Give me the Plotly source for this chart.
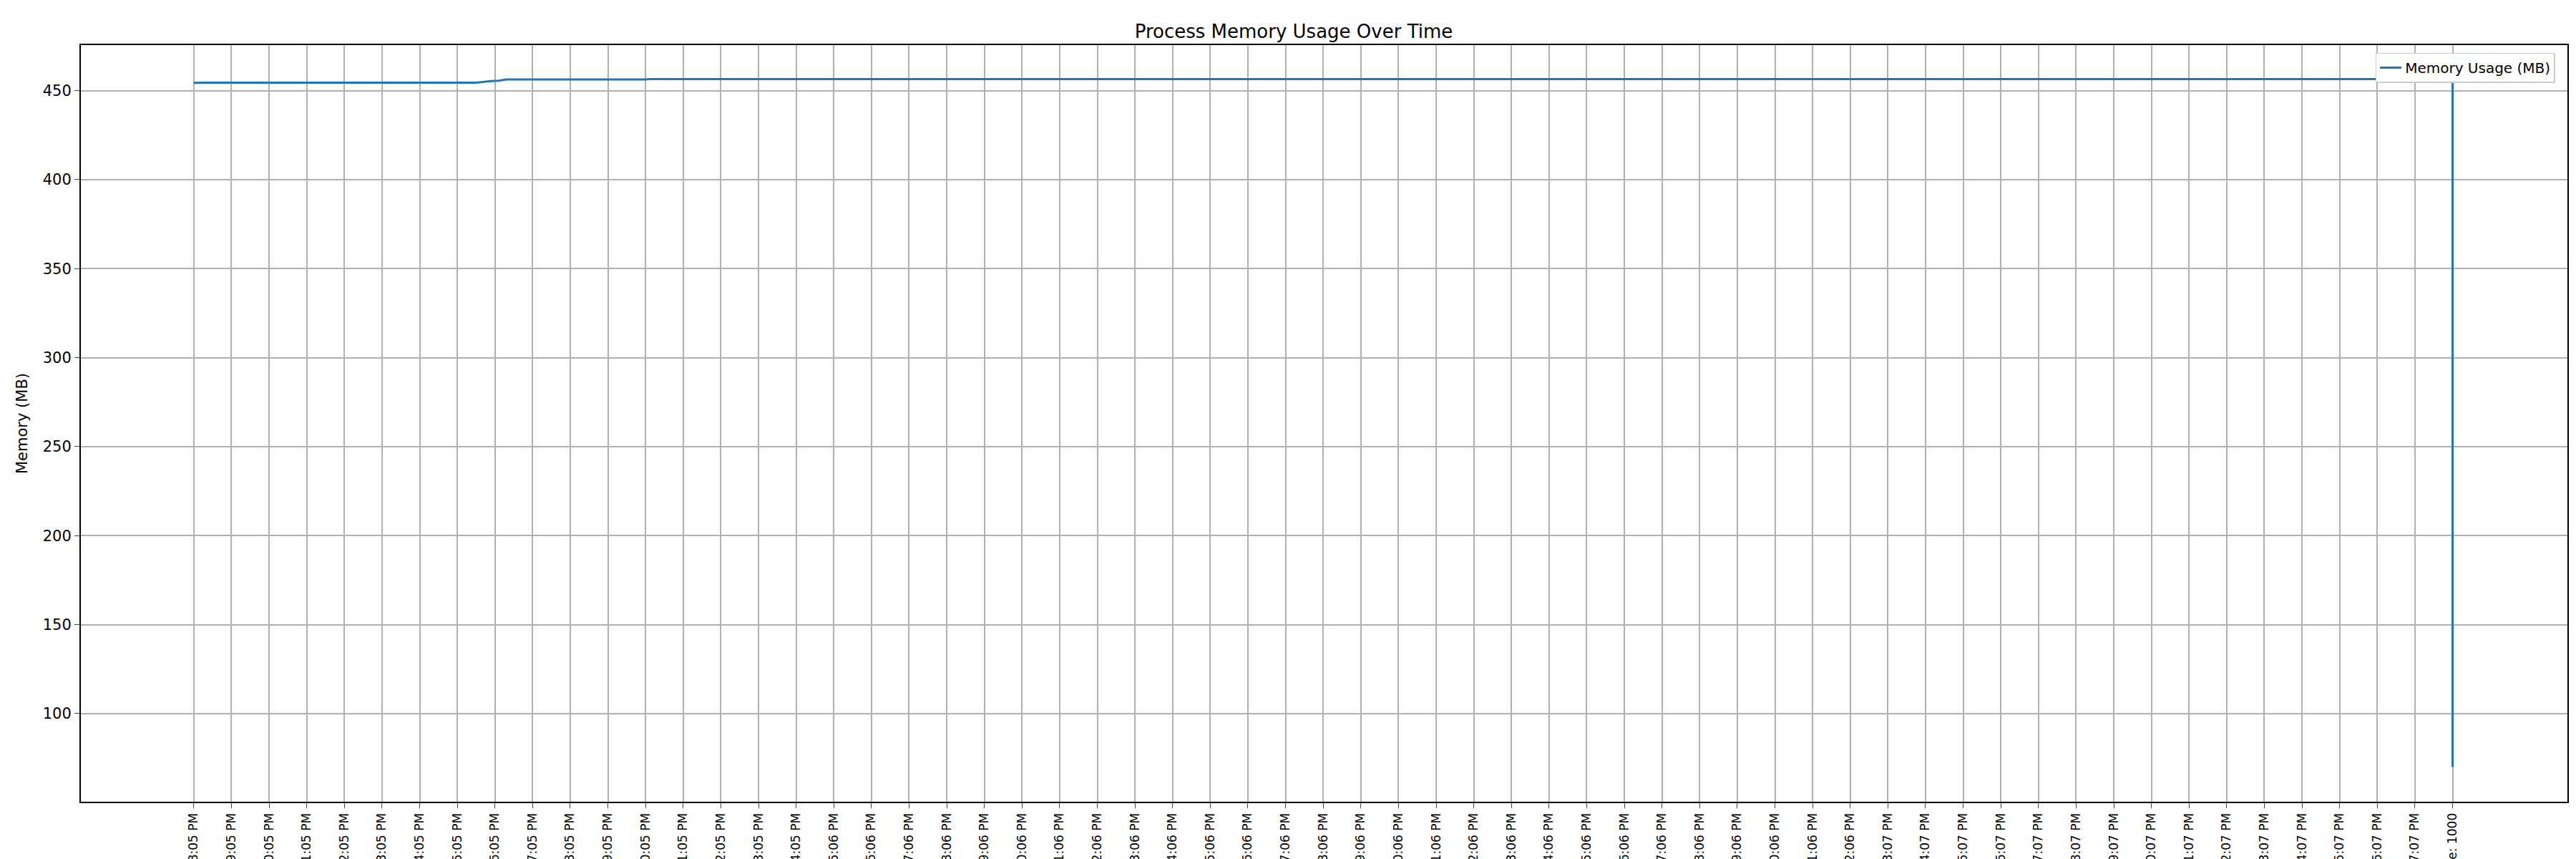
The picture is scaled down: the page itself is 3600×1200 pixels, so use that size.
import plotly.graph_objects as go

# tick labels: one per minute, seconds drift from 05 to 07
minutes = list(range(48, 60)) + list(range(0, 48))
seconds = [5] * 17 + [6] * 28 + [7] * 15
hours = [2] * 12 + [3] * 48
tick_labels = ["3/14/2024 %d:%02d:%02d PM" % (h, m, s) for h, m, s in zip(hours, minutes, seconds)]
tick_labels.append("Average: 1000")
tick_pos = list(range(len(tick_labels)))

# memory samples (x = sample position in ticks, y = MB)
x_vals = [0, 0.3, 7.5, 7.7, 7.9, 8.1, 8.3, 12, 12.1, 40, 60, 60]
mem_mb = [454.4, 454.5, 454.5, 455.0, 455.4, 455.6, 456.3, 456.3, 456.5, 456.5, 456.5, 70]

fig = go.Figure()
fig.add_trace(go.Scatter(x=x_vals, y=mem_mb, mode='lines', name='Memory Usage (MB)',
                         line=dict(color='#1f77b4', width=3)))

fig.update_layout(
    width=3600, height=1200,
    paper_bgcolor='white', plot_bgcolor='white',
    font=dict(family='DejaVu Sans', size=21, color='black'),
    title=dict(text='Process Memory Usage Over Time', x=0.5, y=0.978, xanchor='center',
               font=dict(size=26)),
    margin=dict(l=105, r=20, t=55, b=88, autoexpand=False),
    showlegend=True,
    legend=dict(x=0.995, y=0.99, xanchor='right', yanchor='top',
                bordercolor='#cccccc', borderwidth=1.5, font=dict(size=20)),
)
fig.update_xaxes(range=[-3.0, 63.05], tickmode='array', tickvals=tick_pos, ticktext=tick_labels,
                 tickangle=-90, tickfont=dict(size=17), showgrid=True, gridcolor='#b0b0b0',
                 gridwidth=1.5, ticks='outside', ticklen=7, showline=True, linecolor='black',
                 linewidth=2, mirror=True, automargin=False, zeroline=False)
fig.update_yaxes(range=[50.5, 475.6], tickvals=[100, 150, 200, 250, 300, 350, 400, 450],
                 showgrid=True, gridcolor='#b0b0b0', gridwidth=1.5, ticks='outside', ticklen=7,
                 showline=True, linecolor='black', linewidth=2, mirror=True, zeroline=False,
                 title=dict(text='Memory (MB)', font=dict(size=21)), tickfont=dict(size=21))

fig.write_html("out.html")
